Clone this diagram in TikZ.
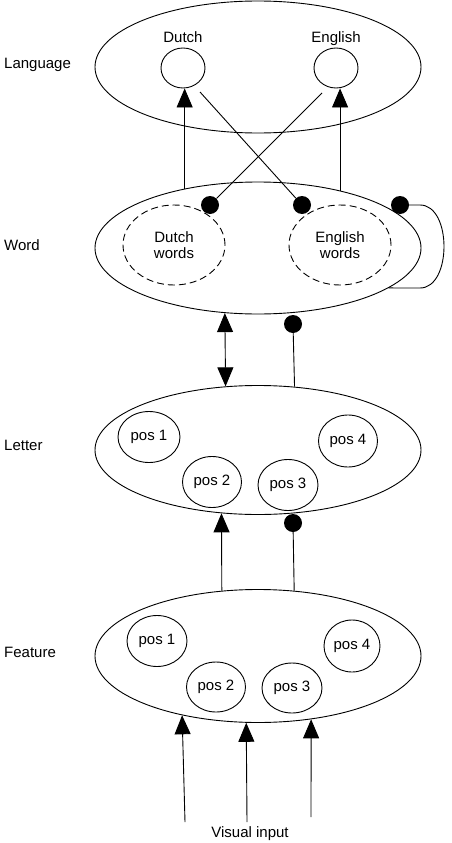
\documentclass[tikz,border=0pt]{standalone}
\usepackage{fontspec}
\setmainfont{Liberation Sans}
\usetikzlibrary{arrows.meta,shapes.geometric}
\begin{document}
\begin{tikzpicture}[x=1pt,y=-1pt,
  every node/.style={font=\fontsize{15}{15.5}\selectfont},
  big/.style={ellipse,draw,line width=0.9pt,minimum width=326pt,inner sep=0pt},
  posc/.style={ellipse,draw,line width=0.9pt,inner sep=0pt},
  dashc/.style={ellipse,draw,line width=0.9pt,inner sep=0pt,dash pattern=on 7pt off 4pt,align=center,minimum width=102pt,minimum height=80pt},
  dot/.style={circle,fill=black,minimum size=18pt,inner sep=0pt},
  conn/.style={line width=0.9pt},
  arr/.style={conn,-{Triangle[length=19pt,width=16pt]}},
  darr/.style={conn,{Triangle[length=19pt,width=16pt]}-{Triangle[length=19pt,width=16pt]}},
  lab/.style={anchor=base west,inner sep=0pt}]
\useasboundingbox (0,0) rectangle (451,843);

% level labels
\node[lab] (lLang) at (4,68) {Language};
\node[lab] (lWord) at (4,250) {Word};
\node[lab] (lLet) at (4,450) {Letter};
\node[lab] (lFeat) at (4,657) {Feature};

% Language
\node[big,minimum height=132pt] (lang) at (258,67) {};
\node[posc,minimum width=44pt,minimum height=40pt] (dutch) at (183,68) {};
\node[posc,minimum width=44pt,minimum height=40pt] (english) at (336,68) {};
\node[anchor=base,inner sep=0pt] (tDutch) at (183,43) {Dutch};
\node[anchor=base,inner sep=0pt] (tEnglish) at (336,43) {English};

% Word
\node[big,minimum height=132pt] (word) at (258,248) {};
\node[dashc] (dw) at (174,245) {Dutch\\words};
\node[dashc] (ew) at (340,245) {English\\words};
\node[dot] (dotD) at (210,205) {};
\node[dot] (dotE) at (302,205) {};
\node[dot] (dotL) at (400,205) {};

% Letter
\node[big,minimum height=129pt] (letter) at (258,450) {};
\node[posc,minimum width=62pt,minimum height=51pt] (lp1) at (149,437) {pos 1};
\node[posc,minimum width=59pt,minimum height=51pt] (lp2) at (212,482) {pos 2};
\node[posc,minimum width=60pt,minimum height=51pt] (lp3) at (288,485) {pos 3};
\node[posc,minimum width=59pt,minimum height=52pt] (lp4) at (348,441) {pos 4};
\node[dot] (dotWL) at (293,324) {};

% Feature
\node[big,minimum height=133pt] (feat) at (258,656) {};
\node[posc,minimum width=60pt,minimum height=51pt] (fp1) at (157,641) {pos 1};
\node[posc,minimum width=59pt,minimum height=50pt] (fp2) at (216,687) {pos 2};
\node[posc,minimum width=60pt,minimum height=50pt] (fp3) at (292,688) {pos 3};
\node[posc,minimum width=56pt,minimum height=52pt] (fp4) at (352,646) {pos 4};
\node[dot] (dotLF) at (293,523) {};

% visual input
\node[anchor=base,inner sep=0pt] (vis) at (250,837) {Visual input};
\coordinate (v1) at (185,822);
\coordinate (v2) at (247,822);
\coordinate (v3) at (311,817);

% word -> language
\draw[arr] (word.141.5) -- (word.141.5 |- dutch.south);
\draw[arr] (word.35.7) -- (word.35.7 |- english.south);
\coordinate (cD) at (200,92);
\coordinate (cE) at (322,93);
\draw[conn] (cD) -- (dotE);
\draw[conn] (cE) -- (dotD);

% self loop
\draw[conn] (dotL.east) -- (420,205) .. controls (452,205) and (452,288) .. (420,288) -- (word.-17);

% word <-> letter
\draw[darr] (word.243.7) -- (letter.117);
\draw[conn] (letter.60.75) -- (dotWL);

% feature -> letter
\draw[arr] (feat.119.2) -- (letter.240);
\draw[conn] (feat.61.5) -- (dotLF);

% visual input -> feature
\draw[arr] (v1) -- (feat.218.9);
\draw[arr] (v2) -- (feat.260.5);
\draw[arr] (v3) -- (feat.310.3);
\end{tikzpicture}
\end{document}
